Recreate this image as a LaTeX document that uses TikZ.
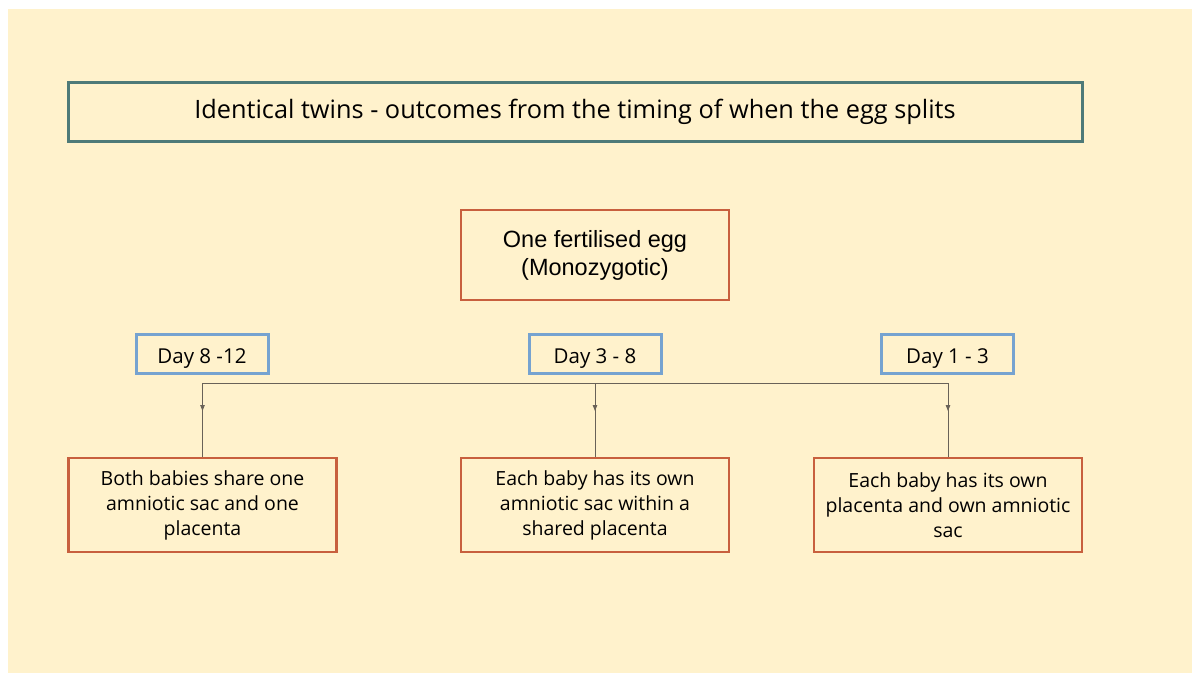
\documentclass[tikz,border=0pt]{standalone}
\usepackage{fontspec}
\setmainfont{Open Sans}
\newfontfamily\arialfont{Liberation Sans}
\usetikzlibrary{arrows.meta,decorations.markings}

\definecolor{paper}{RGB}{255,242,204}
\definecolor{teal}{RGB}{78,122,120}
\definecolor{brick}{RGB}{200,96,62}
\definecolor{sky}{RGB}{118,163,208}
\definecolor{wire}{RGB}{105,98,88}

\begin{document}
\begin{tikzpicture}[
            x=1pt, y=-1pt,
            titlebox/.style={draw=teal, line width=3pt, minimum width=1014pt, minimum height=59pt, font=\fontsize{25.3}{30}\selectfont},
            eggbox/.style={draw=brick, line width=2.5pt, minimum width=268pt, minimum height=90pt, align=center, font=\arialfont\fontsize{23.5}{28}\selectfont},
            daybox/.style={draw=sky, line width=3pt, minimum width=132pt, minimum height=39pt, inner sep=0pt, text height=20pt, text depth=1pt, font=\fontsize{20.5}{24}\selectfont},
            outcome/.style={draw=brick, line width=2.5pt, minimum width=268pt, minimum height=94pt, align=center, font=\fontsize{19.5}{25}\selectfont},
            midarrow/.style={draw=wire, line width=0.9pt, postaction={decorate}, decoration={markings, mark=at position 0.38 with {\arrow{Triangle[length=6pt, width=4.5pt]}}}}
        ]
        % page and background
        \useasboundingbox (0,0) rectangle (1192,673);
        \fill[white] (0,0) rectangle (1192,673);
        \fill[paper] (8,9) rectangle (1192,673);

        \node[titlebox] (title) at (575,111.5) {Identical twins - outcomes from the timing of when the egg splits};
        \node[eggbox] (egg) at (595,255) {One fertilised egg\\(Monozygotic)};

        \node[daybox] (late) at (202,353.5) {Day 8 -12};
        \node[daybox] (mid) at (595,353.5) {Day 3 - 8};
        \node[daybox] (early) at (947.5,353.5) {Day 1 - 3};

        \node[outcome] (shared) at (202.5,505) {Both babies share one\\amniotic sac and one\\placenta};
        \node[outcome] (ownsac) at (595,505) {Each baby has its own\\amniotic sac within a\\shared placenta};
        \node[outcome] (ownall) at (948,505) {Each baby has its own\\placenta and own amniotic\\sac};

        % split line
        \coordinate (bar) at (0,383);
        \draw[wire, line width=0.9pt] (shared.north |- bar) -- (ownall.north |- bar);
        \draw[midarrow] (shared.north |- bar) -- (shared.north);
        \draw[midarrow] (ownsac.north |- bar) -- (ownsac.north);
        \draw[midarrow] (ownall.north |- bar) -- (ownall.north);
\end{tikzpicture}
\end{document}
